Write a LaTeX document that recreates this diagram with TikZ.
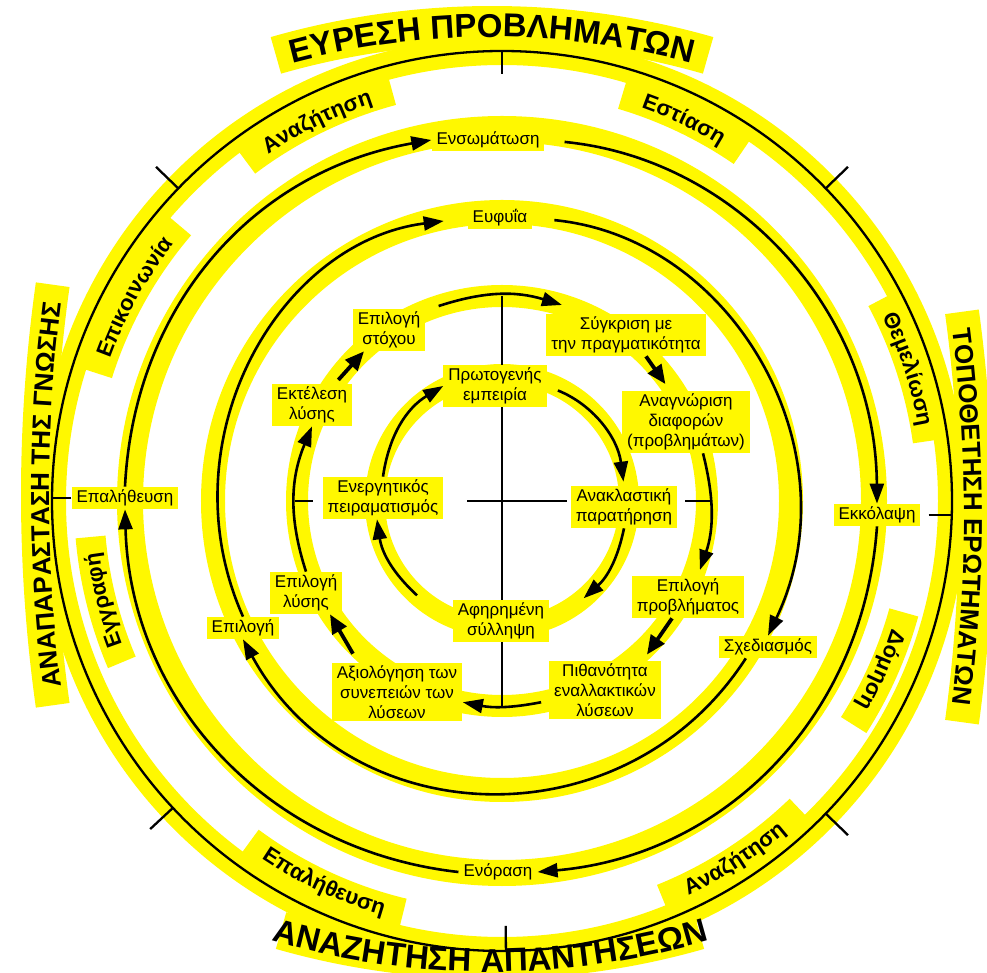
\documentclass[tikz,border=0pt]{standalone}
\usepackage{fontspec}
\setmainfont{Liberation Sans}
\usetikzlibrary{arrows.meta,decorations.text}
\definecolor{marker}{RGB}{255,248,0}
\newcommand\labelfont{\fontsize{17}{20}\selectfont}
\newcommand\rimfont{\fontsize{22}{24}\selectfont\bfseries}
\newcommand\titlefont{\fontsize{33}{36}\selectfont\bfseries}
\newcommand\sidefont{\fontsize{26}{28}\selectfont\bfseries}
\tikzset{
  lbl/.style={font=\labelfont, fill=marker, align=center, inner xsep=5pt, inner ysep=3pt},
  flow/.style={line width=2.6pt, -{Triangle[length=20pt,width=14pt]}},
  jump/.style={line width=3.8pt, -{Triangle[length=19pt,width=16pt]}},
  rim/.style={line width=2.3pt},
}
\begin{document}
\begin{tikzpicture}[x=1pt,y=1pt]
  \path[use as bounding box, fill=white] (-502,-472) rectangle (485,501);

  % Yellow marker bands along the rings
  \foreach \r/\w in {450/28, 372/26, 289/24, 205/22, 127/20}
    \draw[marker, line width=\w pt] (0,0) circle[radius=\r];
  % marker under the rim words
  \foreach \a/\r/\h in {116/425/11, 64.5/424/9, 18/430/10, -24/417/8.5, 194/413/9, 151/424/11.5, -57/429/11, -115/424/11.5}
    \draw[marker, line width=30pt] (\a-\h:\r) arc[start angle=\a-\h, end angle=\a+\h, radius=\r];
  % marker under the four titles
  \draw[marker, line width=38pt, shift={(-10,-308)}] (74:784) arc[start angle=74, end angle=106, radius=784];
  \draw[marker, line width=38pt, shift={(-12,299)}] (254:758) arc[start angle=254, end angle=286, radius=758];
  \draw[marker, line width=34pt, shift={(-1038,-16)}] (-7.8:1512) arc[start angle=-7.8, end angle=7.8, radius=1512];
  \draw[marker, line width=34pt, shift={(1047,6)}] (172:1511) arc[start angle=172, end angle=188, radius=1511];

  % Outer circle and its ticks
  \draw[rim] (0,0) circle[radius=450];
  \draw[rim] (90:450) -- (90:427);
  \draw[rim] (270.5:450) -- (270.5:425);
  \foreach \a in {44,136,223,316}
    \draw[rim] (\a:450) -- (\a:481);
  \coordinate (oL) at (-450,3);
  \coordinate (oR) at (450,-14);

  % Titles outside the circle
  \path[shift={(-10,-308)}, decorate, decoration={text along path, text align=center, text={|\titlefont|ΕΥΡΕΣΗ ΠΡΟΒΛΗΜΑΤΩΝ}}]
    (125:772) arc[start angle=125, end angle=55, radius=772];
  \path[shift={(-1038,-16)}, decorate, decoration={text along path, text align=center, text={|\sidefont|ΤΟΠΟΘΕΤΗΣΗ ΕΡΩΤΗΜΑΤΩΝ}}]
    (12:1500) arc[start angle=12, end angle=-12, radius=1500];
  \path[shift={(-12,299)}, decorate, decoration={text along path, text align=center, text={|\titlefont|ΑΝΑΖΗΤΗΣΗ ΑΠΑΝΤΗΣΕΩΝ}}]
    (235:770) arc[start angle=235, end angle=305, radius=770];
  \path[shift={(1047,6)}, decorate, decoration={text along path, text align=center, text={|\sidefont|ΑΝΑΠΑΡΑΣΤΑΣΗ ΤΗΣ ΓΝΩΣΗΣ}}]
    (192:1500) arc[start angle=192, end angle=168, radius=1500];

  % Rim words inside the circle
  \path[decorate, decoration={text along path, text align=center, text={|\rimfont|Αναζήτηση}}]
    (156:418) arc[start angle=156, end angle=76, radius=418];
  \path[decorate, decoration={text along path, text align=center, text={|\rimfont|Εστίαση}}]
    (104.5:417) arc[start angle=104.5, end angle=24.5, radius=417];
  \path[decorate, decoration={text along path, text align=center, text={|\rimfont|Θεμελίωση}}]
    (58:423) arc[start angle=58, end angle=-22, radius=423];
  \path[decorate, decoration={text along path, text align=center, text={|\rimfont|Δόμηση}}]
    (16:410) arc[start angle=16, end angle=-64, radius=410];
  \path[decorate, decoration={text along path, text align=center, text={|\rimfont|Αναζήτηση}}]
    (-97:436) arc[start angle=-97, end angle=-17, radius=436];
  \path[decorate, decoration={text along path, text align=center, text={|\rimfont|Επαλήθευση}}]
    (-155:431) arc[start angle=-155, end angle=-75, radius=431];
  \path[decorate, decoration={text along path, text align=center, text={|\rimfont|Εγγραφή}}]
    (234:406) arc[start angle=234, end angle=154, radius=406];
  \path[decorate, decoration={text along path, text align=center, text={|\rimfont|Επικοινωνία}}]
    (191:417) arc[start angle=191, end angle=111, radius=417];

  % Second ring
  \node[lbl] (ens) at (-14,361) {Ενσωμάτωση};
  \node[lbl] (ekk) at (375,-14) {Εκκόλαψη};
  \node[lbl] (enor) at (-4,-371) {Ενόραση};
  \node[lbl] (epal) at (-377,3) {Επαλήθευση};

  % Third ring
  \node[lbl] (eyf) at (-2,283) {Ευφυΐα};
  \node[lbl] (sxed) at (266,-146) {Σχεδιασμός};
  \node[lbl] (epil) at (-259,-127) {Επιλογή};

  % Fourth ring
  \node[lbl] (stox) at (-113,171) {Επιλογή\\στόχου};
  \node[lbl] (sygk) at (124,166) {Σύγκριση με\\την πραγματικότητα};
  \node[lbl] (anag) at (184,79) {Αναγνώριση\\διαφορών\\(προβλημάτων)};
  \node[lbl] (eprob) at (186,-96) {Επιλογή\\προβλήματος};
  \node[lbl] (pith) at (103,-189) {Πιθανότητα\\εναλλακτικών\\λύσεων};
  \node[lbl] (axio) at (-105,-191) {Αξιολόγηση των\\συνεπειών των\\λύσεων};
  \node[lbl] (elys) at (-196,-92) {Επιλογή\\λύσης};
  \node[lbl] (ektel) at (-190,96) {Εκτέλεση\\λύσης};
  \coordinate (t4a) at (108:205);
  \coordinate (t4b) at (73:205);
  \coordinate (b4a) at (-79:205);
  \coordinate (b4b) at (-101:205);
  \coordinate (top4) at (90:205);
  \coordinate (bot4) at (270:205);

  % Inner ring
  \node[lbl] (prot) at (-7,115) {Πρωτογενής\\εμπειρία};
  \node[lbl] (anakl) at (122,-6) {Ανακλαστική\\παρατήρηση};
  \node[lbl] (afir) at (-1,-120) {Αφηρημένη\\σύλληψη};
  \node[lbl] (energ) at (-119,3) {Ενεργητικός\\πειραματισμός};
  \coordinate (r5c) at (-50:127);
  \coordinate (r5d) at (228:127);
  \coordinate (crossL) at (-35,0);
  \coordinate (crossR) at (65,0);

  % Links to the outer circle
  \draw[rim] (epal.west) -- (oL);
  \draw[rim, shorten <=8pt] (ekk.east) -- (oR);

  % Second ring arrows
  \draw[flow] (epal.north) to[bend left=38.6] (ens.west);
  \draw[flow, shorten <=20pt] (ens.east) to[bend left=42] (ekk.north);
  \draw[flow] (ekk.south) to[bend left=40.5] (enor.east);
  \draw[flow] (enor.west) to[bend left=41] (epal.south);

  % Third ring arrows
  \draw[flow, shorten >=24pt] (epil.north) to[bend left=53.4, looseness=1.07] (eyf.west);
  \draw[flow, shorten <=22pt] (eyf.east) to[bend left=55, looseness=1.08] (sxed.north);
  \draw[flow] ([xshift=27pt]sxed.south west) to[bend left=59.3, looseness=1.13] (epil.south);

  % Fourth ring arrows
  \draw[jump, shorten <=5pt] ([xshift=23pt]ektel.north) -- ([xshift=-25pt]stox.south);
  \draw[flow] (t4a) to[bend left=17.5] (t4b);
  \draw[jump, shorten >=8pt] ([xshift=20pt]sygk.south) -- ([xshift=-16pt]anag.north);
  \draw[flow, shorten >=6pt] ([xshift=17pt]anag.south) to[bend left=16.6] ([xshift=10pt]eprob.north);
  \draw[jump, shorten >=7pt] ([xshift=-16pt]eprob.south) -- ([xshift=38pt]pith.north);
  \draw[flow] (b4a) to[bend left=11] (b4b);
  \draw[jump, shorten <=10pt] ([xshift=-39pt]axio.north) -- ([xshift=24pt]elys.south);
  \draw[flow] (elys.north) to[bend left=20.2] (ektel.south);
  \draw[rim] (180:207) -- (180:189);
  \draw[rim] (0:183) -- (0:208);

  % Inner ring arrows
  \draw[flow, shorten <=12pt, shorten >=4pt] (prot.east) to[bend left=30.3] (anakl.north);
  \draw[flow] (anakl.south) to[bend left=18.3] (r5c);
  \draw[flow] (r5d) to[bend left=19.5] ([xshift=-6pt]energ.south);
  \draw[flow] (energ.north) to[bend left=25.3] (prot.west);

  % Cross
  \draw[rim] (top4) -- (top4 |- prot.north);
  \draw[rim] (top4 |- prot.south) -- (top4 |- afir.north);
  \draw[rim] (top4 |- afir.south) -- (bot4);
  \draw[rim] (crossL) -- (crossR);
\end{tikzpicture}
\end{document}
